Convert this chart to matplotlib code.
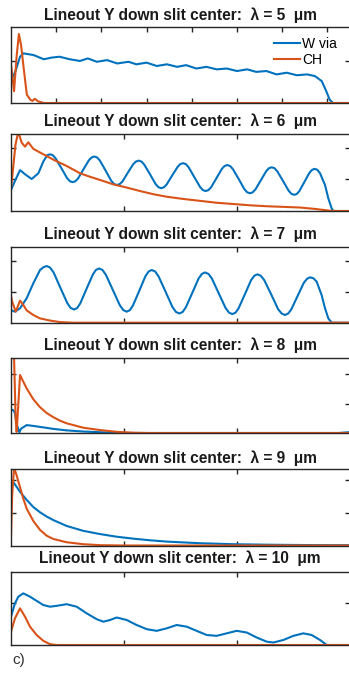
import matplotlib
matplotlib.use('Agg')
import matplotlib.pyplot as plt

BLUE = '#0072BD'
ORANGE = '#D95319'

# ---- lambda = 5 um
x_w5 = [0, 0.04, 0.08, 0.11, 0.20, 0.29, 0.36, 0.43, 0.52, 0.61, 0.68, 0.76, 0.85, 0.94, 1.04, 1.11,
        1.20, 1.29, 1.38, 1.47, 1.55, 1.64, 1.73, 1.82, 1.91, 2.00, 2.09, 2.17, 2.26, 2.35, 2.44,
        2.53, 2.62, 2.69, 2.75, 2.79, 2.82, 2.85, 3.0]
y_w5 = [0.52, 0.76, 1.10, 1.18, 1.14, 1.04, 1.08, 1.10, 1.04, 1.00, 1.06, 0.98, 1.02, 0.94, 0.98, 0.92,
        0.96, 0.88, 0.92, 0.86, 0.90, 0.82, 0.86, 0.80, 0.82, 0.76, 0.80, 0.74, 0.76, 0.68, 0.72,
        0.66, 0.68, 0.64, 0.52, 0.28, 0.08, 0.0, 0.0]
x_ch5 = [0, 0.027, 0.05, 0.07, 0.09, 0.11, 0.14, 0.17, 0.19, 0.21, 0.24, 0.29, 3.0]
y_ch5 = [0.92, 0.28, 1.12, 1.64, 1.36, 0.88, 0.20, 0.08, 0.05, 0.10, 0.04, 0.0, 0.0]

# ---- lambda = 6 um
x_w6 = [0, 0.035, 0.08, 0.124, 0.183, 0.242, 0.286, 0.32, 0.345, 0.37,
        0.395, 0.446, 0.496, 0.521, 0.546, 0.570, 0.594, 0.642, 0.689, 0.713, 0.737, 0.762,
        0.787, 0.838, 0.888, 0.913, 0.938, 0.962, 0.986, 1.034, 1.082, 1.106, 1.130, 1.155,
        1.180, 1.230, 1.280, 1.305, 1.330, 1.354, 1.378, 1.426, 1.474, 1.498, 1.522, 1.547,
        1.572, 1.622, 1.673, 1.698, 1.723, 1.747, 1.771, 1.819, 1.866, 1.890, 1.914, 1.939,
        1.964, 2.015, 2.065, 2.090, 2.115, 2.139, 2.163, 2.211, 2.259, 2.283, 2.307, 2.332,
        2.357, 2.407, 2.457, 2.482, 2.507, 2.530, 2.552, 2.597, 2.642, 2.665, 2.687, 2.711,
        2.735, 2.779, 2.808, 2.838, 2.853, 3.0]
y_w6 = [0.66, 0.95, 1.29, 1.16, 1.01, 1.19, 1.56, 1.76, 1.79, 1.76,
        1.66, 1.35, 1.04, 0.94, 0.91, 0.94, 1.03, 1.32, 1.60, 1.69, 1.72, 1.69,
        1.59, 1.27, 0.95, 0.85, 0.82, 0.85, 0.93, 1.21, 1.48, 1.56, 1.59, 1.56,
        1.46, 1.16, 0.85, 0.75, 0.72, 0.75, 0.84, 1.12, 1.39, 1.48, 1.51, 1.48,
        1.38, 1.07, 0.76, 0.66, 0.63, 0.66, 0.75, 1.04, 1.33, 1.42, 1.45, 1.42,
        1.32, 1.01, 0.69, 0.59, 0.56, 0.59, 0.68, 0.97, 1.26, 1.35, 1.38, 1.35,
        1.25, 0.95, 0.64, 0.54, 0.51, 0.54, 0.63, 0.92, 1.21, 1.30, 1.33, 1.30,
        1.19, 0.82, 0.40, 0.08, 0.0, 0.0]
x_ch6 = [0, 0.02, 0.04, 0.065, 0.094, 0.124, 0.153, 0.198, 0.286, 0.375, 0.493, 0.611, 0.699, 0.788,
         0.906, 1.024, 1.142, 1.260, 1.378, 1.525, 1.673, 1.820, 1.968, 2.115, 2.263, 2.410, 2.558,
         2.705, 2.794, 2.853, 3.0]
y_ch6 = [0.70, 1.40, 2.10, 2.50, 2.16, 2.03, 2.17, 1.96, 1.79, 1.62, 1.42, 1.19, 1.08, 0.98,
         0.84, 0.74, 0.63, 0.53, 0.45, 0.38, 0.32, 0.26, 0.22, 0.18, 0.15, 0.13, 0.11,
         0.06, 0.02, 0.0, 0.0]

# ---- lambda = 7 um
x_w7 = [0, 0.035, 0.08, 0.139, 0.198, 0.257, 0.287, 0.316, 0.345,
        0.377, 0.437, 0.498, 0.528, 0.558, 0.586, 0.613, 0.668, 0.724, 0.751, 0.779, 0.810,
        0.840, 0.901, 0.963, 0.994, 1.024, 1.052, 1.079, 1.135, 1.190, 1.218, 1.245, 1.276,
        1.306, 1.368, 1.429, 1.460, 1.490, 1.519, 1.547, 1.604, 1.660, 1.689, 1.717, 1.748,
        1.778, 1.838, 1.899, 1.929, 1.959, 1.987, 2.014, 2.070, 2.125, 2.153, 2.180, 2.211,
        2.241, 2.303, 2.364, 2.395, 2.425, 2.453, 2.480, 2.536, 2.591, 2.619, 2.646, 2.676,
        2.705, 2.749, 2.779, 2.808, 2.838, 3.0]
y_w7 = [0.41, 0.36, 0.47, 0.80, 1.29, 1.72, 1.81, 1.85, 1.80,
        1.64, 1.14, 0.64, 0.48, 0.43, 0.48, 0.63, 1.10, 1.57, 1.72, 1.77, 1.72,
        1.56, 1.07, 0.57, 0.41, 0.36, 0.41, 0.56, 1.04, 1.52, 1.67, 1.72, 1.67,
        1.51, 1.01, 0.51, 0.35, 0.30, 0.35, 0.50, 0.97, 1.44, 1.59, 1.64, 1.59,
        1.44, 0.96, 0.48, 0.33, 0.28, 0.33, 0.47, 0.93, 1.39, 1.53, 1.58, 1.53,
        1.39, 0.92, 0.44, 0.30, 0.25, 0.30, 0.43, 0.87, 1.30, 1.43, 1.48, 1.45,
        1.34, 0.90, 0.47, 0.14, 0.0, 0.0]
x_ch7 = [0, 0.01, 0.042, 0.08, 0.109, 0.139, 0.198, 0.257, 0.345, 0.434, 0.552, 3.0]
y_ch7 = [0.88, 0.69, 0.36, 0.72, 0.58, 0.40, 0.25, 0.14, 0.07, 0.02, 0.0, 0.0]

# ---- lambda = 8 um
x_w8 = [0, 0.02, 0.035, 0.05, 0.074, 0.09, 0.139, 0.20, 0.29, 0.375, 0.49, 0.64, 0.83, 1.0, 2.9, 3.0]
y_w8 = [0.80, 0.78, 0.68, 0.30, 0.03, 0.15, 0.27, 0.24, 0.19, 0.14, 0.09, 0.05, 0.02, 0.0, 0.0, 0.03]
x_ch8 = [0, 0.027, 0.041, 0.05, 0.065, 0.08, 0.109, 0.139, 0.198, 0.257, 0.316, 0.375, 0.434,
         0.493, 0.640, 0.788, 0.935, 1.083, 1.230, 3.0]
y_ch8 = [2.70, 2.60, 0.50, 0.04, 1.00, 1.98, 1.75, 1.52, 1.15, 0.88, 0.68, 0.54, 0.42,
         0.33, 0.18, 0.10, 0.04, 0.01, 0.0, 0.0]

# ---- lambda = 9 um
x_w9 = [0, 0.02, 0.08, 0.139, 0.198, 0.257, 0.316, 0.375, 0.493, 0.64, 0.79, 0.935, 1.083, 1.23,
        1.378, 1.67, 1.97, 2.26, 2.56, 2.85, 3.0]
y_w9 = [1.75, 1.95, 1.65, 1.40, 1.18, 1.02, 0.89, 0.78, 0.60, 0.45, 0.35, 0.27, 0.21, 0.16,
        0.12, 0.07, 0.04, 0.025, 0.015, 0.01, 0.01]
x_ch9 = [0, 0.01, 0.027, 0.05, 0.08, 0.109, 0.139, 0.198, 0.257, 0.316, 0.375, 0.493, 0.64, 0.79,
         1.0, 3.0]
y_ch9 = [0.30, 1.50, 2.40, 2.15, 1.79, 1.44, 1.13, 0.75, 0.48, 0.30, 0.20, 0.10, 0.04, 0.01,
         0.0, 0.0]

# ---- lambda = 10 um
x_w10 = [0, 0.035, 0.065, 0.109, 0.168, 0.227, 0.286, 0.345, 0.404, 0.493, 0.581, 0.670, 0.758,
         0.817, 0.876, 0.935, 1.024, 1.112, 1.201, 1.289, 1.378, 1.466, 1.555, 1.643, 1.732,
         1.820, 1.909, 1.997, 2.086, 2.174, 2.263, 2.322, 2.410, 2.499, 2.587, 2.661, 2.735,
         2.794, 3.0]
y_w10 = [0.68, 1.00, 1.16, 1.24, 1.16, 1.06, 0.96, 0.92, 0.94, 0.98, 0.92, 0.76, 0.62,
         0.56, 0.60, 0.66, 0.60, 0.48, 0.38, 0.34, 0.40, 0.48, 0.44, 0.34, 0.24,
         0.22, 0.28, 0.34, 0.30, 0.18, 0.08, 0.06, 0.12, 0.22, 0.28, 0.24, 0.12,
         0.0, 0.0]
x_ch10 = [0, 0.035, 0.08, 0.124, 0.168, 0.227, 0.286, 0.345, 0.404, 3.0]
y_ch10 = [0.32, 0.64, 0.88, 0.68, 0.44, 0.24, 0.10, 0.02, 0.0, 0.0]

wavelengths = ['5', '6', '7', '8', '9', '10']
y_max = [1.80, 2.43, 2.46, 2.55, 2.36, 1.76]
y_ticks = [[1], [1, 2], [1, 2], [1, 2], [1, 2], [1]]

W, H = 349, 676
# axes box in pixels: top, bottom ; title centre
boxes = [(27.3, 103.0, 15.0), (134.0, 211.0, 121.7), (247.3, 322.7, 234.0),
         (358.3, 433.0, 345.7), (468.7, 545.5, 458.3), (571.7, 645.0, 558.3)]

series = [(x_w5, y_w5, x_ch5, y_ch5), (x_w6, y_w6, x_ch6, y_ch6), (x_w7, y_w7, x_ch7, y_ch7),
          (x_w8, y_w8, x_ch8, y_ch8), (x_w9, y_w9, x_ch9, y_ch9), (x_w10, y_w10, x_ch10, y_ch10)]

fig = plt.figure(figsize=(W / 100, H / 100), dpi=100)

for i, (xw, yw, xc, yc) in enumerate(series):
    top, bot, ty = boxes[i]
    ax = fig.add_axes([11 / W, 1 - bot / H, 339 / W, (bot - top) / H])
    ax.plot(xw, yw, color=BLUE, lw=1.5, label='W via')
    ax.plot(xc, yc, color=ORANGE, lw=1.5, label='CH')
    ax.set_xlim(0, 3)
    ax.set_ylim(0, y_max[i])
    if i == 0:
        ax.set_xticks([0.4, 0.8, 1.2, 1.6, 2.0, 2.4, 2.8])
    else:
        ax.set_xticks([1, 2])
    ax.set_yticks(y_ticks[i])
    ax.tick_params(direction='in', top=True, right=True, labelbottom=False, labelleft=False,
                   length=3.5, width=1.0, color='#262626')
    for s in ax.spines.values():
        s.set_linewidth(1.0)
        s.set_color('#262626')
    fig.text(180 / W, 1 - ty / H, 'Lineout Y down slit center:  λ = ' + wavelengths[i] + '  μm',
             ha='center', va='center', fontsize=11.2, fontweight='bold', family='Liberation Sans',
             color='#1a1a1a')
    if i == 0:
        ax.legend(loc='upper left', bbox_to_anchor=(274 / W, 1 - 37 / H),
                  bbox_transform=fig.transFigure, frameon=False,
                  handlelength=1.9, handletextpad=0.1, labelspacing=0.15, borderpad=0,
                  borderaxespad=0, prop={'family': 'Liberation Sans', 'size': 10})

fig.text(12 / W, 1 - 660 / H, 'c)', ha='left', va='center', fontsize=11,
         family='Liberation Sans', color='#333333')

fig.savefig('out.png', dpi=100)
